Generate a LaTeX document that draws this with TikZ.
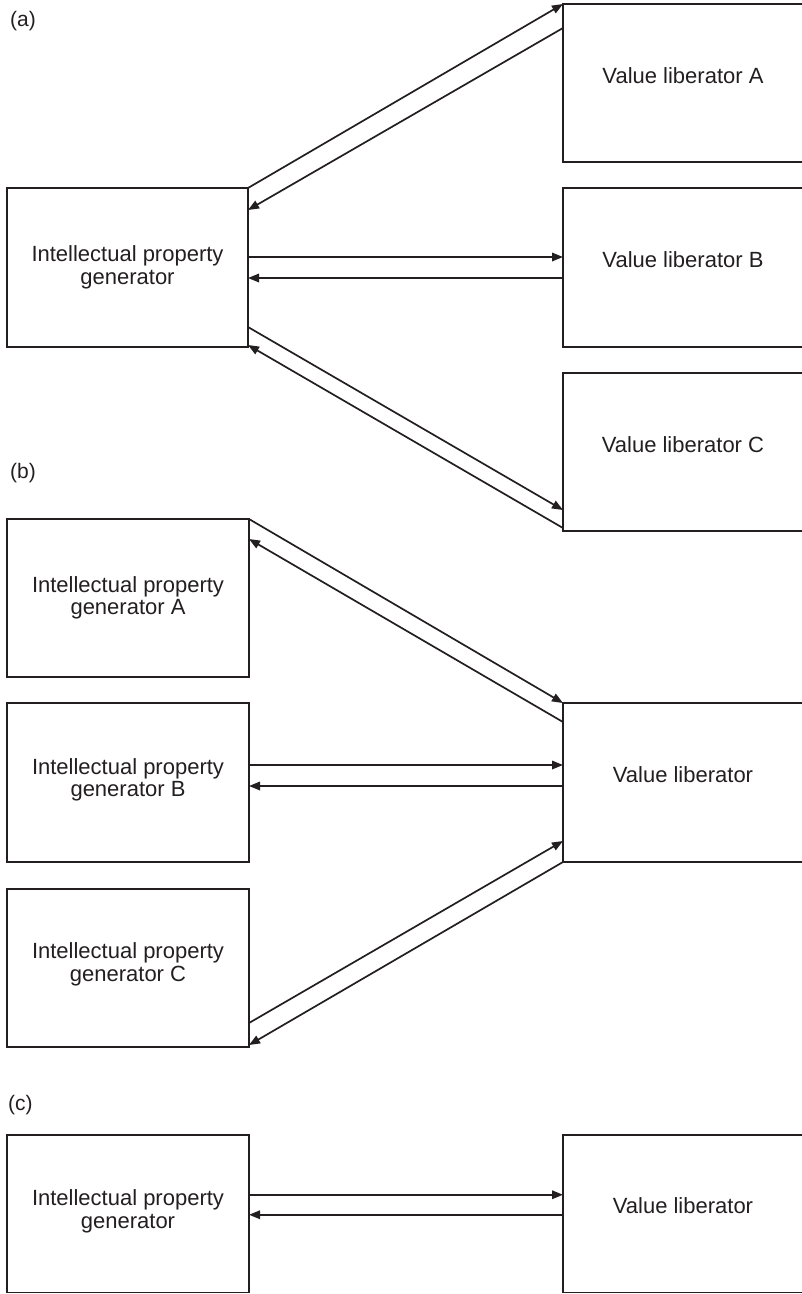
\documentclass[tikz,border=0pt]{standalone}
\usepackage{fontspec}
\setmainfont{Liberation Sans}
\usetikzlibrary{arrows.meta}
\definecolor{ink}{RGB}{35,31,32}

\begin{document}
\begin{tikzpicture}[x=1pt,y=-1pt,
  box/.style={draw=ink, line width=1.9pt, inner sep=0pt, outer sep=0pt,
              minimum width=#1},
  box/.default=241pt,
  lbl/.style={text=ink, align=center, inner sep=0pt,
              font=\fontsize{22}{22.5}\selectfont},
  tag/.style={text=ink, anchor=base west, inner sep=0pt,
              font=\fontsize{21}{22}\selectfont},
  flow/.style={draw=ink, line width=1.7pt,
               -{Triangle[length=11pt,width=8.5pt]}}]
\useasboundingbox (0,0) rectangle (802,1294);

% ---------- (a) one generator, three liberators ----------
\node[tag] (ta) at (10,26) {(a)};
\node[box, minimum height=159pt] (aGen)  at (127.5,267.5) {};
\node[box=240pt, minimum height=158pt] (aValA) at (683,83) {};
\node[box=240pt, minimum height=159pt] (aValB) at (683,267.5) {};
\node[box=240pt, minimum height=158pt] (aValC) at (683,452) {};

\node[lbl] (aGenT) at (aGen.center) {Intellectual property\\generator};
\node[lbl, anchor=base] (aValAT) at (aValA.center) {Value liberator A};
\node[lbl, anchor=base] (aValBT) at (aValB.center) {Value liberator B};
\node[lbl, anchor=base] (aValCT) at (aValC.center) {Value liberator C};

\draw[flow] (aGen.north east) -- (aValA.north west);
\draw[flow] ([yshift=-24pt]aValA.north west) -- ([yshift=-22pt]aGen.north east);
\draw[flow] ([yshift=10.5pt]aGen.east) -- ([yshift=10.5pt]aValB.west);
\draw[flow] ([yshift=-10.5pt]aValB.west) -- ([yshift=-10.5pt]aGen.east);
\draw[flow] ([yshift=20pt]aGen.south east) -- ([yshift=21pt]aValC.south west);
\draw[flow] ([yshift=3pt]aValC.south west) -- ([yshift=2pt]aGen.south east);

% ---------- (b) three generators, one liberator ----------
\node[tag] (tb) at (10,478) {(b)};
\node[box=242pt, minimum height=158pt] (bGenA) at (128,598) {};
\node[box=242pt, minimum height=159pt] (bGenB) at (128,782.5) {};
\node[box=242pt, minimum height=158pt] (bGenC) at (128,968) {};
\node[box=240pt, minimum height=159pt] (bVal)  at (683,782.5) {};

\node[lbl] (bGenAT) at (bGenA.center) {Intellectual property\\generator A};
\node[lbl] (bGenBT) at ([yshift=2.5pt]bGenB.center) {Intellectual property\\generator B};
\node[lbl] (bGenCT) at ([yshift=3.5pt]bGenC.center) {Intellectual property\\generator C};
\node[lbl, anchor=base] (bValT) at (bVal.center) {Value liberator};

\draw[flow] (bGenA.north east) -- (bVal.north west);
\draw[flow] ([yshift=-19pt]bVal.north west) -- ([yshift=-20pt]bGenA.north east);
\draw[flow] ([yshift=17.5pt]bGenB.east) -- ([yshift=17.5pt]bVal.west);
\draw[flow] ([yshift=-3.5pt]bVal.west) -- ([yshift=-3.5pt]bGenB.east);
\draw[flow] ([yshift=24pt]bGenC.south east) -- ([yshift=21pt]bVal.south west);
\draw[flow] (bVal.south west) -- ([yshift=2pt]bGenC.south east);

% ---------- (c) one generator, one liberator ----------
\node[tag] (tc) at (8,1110) {(c)};
\node[box=242pt, minimum height=157.5pt] (cGen) at (128,1213.75) {};
\node[box=240pt, minimum height=157.5pt] (cVal) at (683,1213.75) {};

\node[lbl] (cGenT) at ([yshift=2.5pt]cGen.center) {Intellectual property\\generator};
\node[lbl, anchor=base] (cValT) at (cVal.center) {Value liberator};

\draw[flow] ([yshift=19pt]cGen.east) -- ([yshift=19pt]cVal.west);
\draw[flow] ([yshift=-1pt]cVal.west) -- ([yshift=-1pt]cGen.east);
\end{tikzpicture}
\end{document}
